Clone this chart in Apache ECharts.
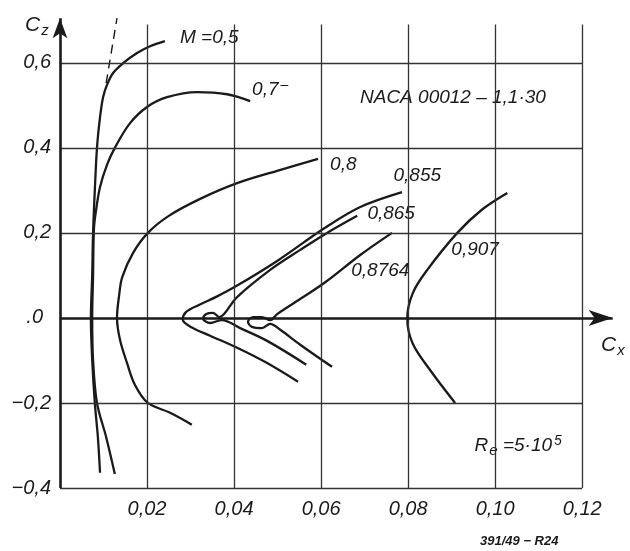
<!DOCTYPE html>
<html><head><meta charset="utf-8">
<script src="https://cdn.jsdelivr.net/npm/echarts@6/dist/echarts.min.js"></script>
<style>html,body{margin:0;padding:0;background:#fff}#c{width:630px;height:551px}</style>
</head><body><div id="c"></div>
<script>
// Tick values and labels
const xTicks = [0.02, 0.04, 0.06, 0.08, 0.10, 0.12];
const xTickLabels = ['0,02', '0,04', '0,06', '0,08', '0,10', '0,12'];
const yTicks = [-0.4, -0.2, 0, 0.2, 0.4, 0.6];
const yTickLabels = ['−0,4', '−0,2', '{z|.0}', '0,2', '0,4', '0,6'];

// Polar curves [Cx, Cz]
const m050 = [[0.0092,-0.364],[0.0087,-0.280],[0.0080,-0.200],[0.0074,-0.099],[0.0071,0.0],[0.0074,0.101],[0.0076,0.200],[0.0080,0.300],[0.0085,0.400],[0.0092,0.472],[0.0099,0.519],[0.0108,0.548],[0.0122,0.576],[0.0145,0.599],[0.0177,0.623],[0.0207,0.639],[0.0241,0.651]];
const m070 = [[0.0126,-0.367],[0.0106,-0.280],[0.0085,-0.200],[0.0076,-0.099],[0.0074,0.0],[0.0076,0.100],[0.0078,0.210],[0.0083,0.254],[0.0092,0.308],[0.0108,0.360],[0.0126,0.400],[0.0161,0.458],[0.0200,0.496],[0.0246,0.519],[0.0315,0.531],[0.0384,0.526],[0.0437,0.510]];
const m080 = [[0.0303,-0.251],[0.0253,-0.223],[0.0202,-0.200],[0.0172,-0.157],[0.0154,-0.106],[0.0138,-0.052],[0.0131,0.0],[0.0136,0.054],[0.0143,0.096],[0.0168,0.153],[0.0202,0.200],[0.0250,0.240],[0.0322,0.280],[0.0407,0.317],[0.0499,0.346],[0.0593,0.374]];
const m0855 = [[0.0547,-0.150],[0.0476,-0.106],[0.0407,-0.070],[0.0345,-0.042],[0.0302,-0.022],[0.0282,-0.004],[0.0290,0.014],[0.0318,0.030],[0.0360,0.050],[0.0407,0.076],[0.0499,0.134],[0.0609,0.212],[0.0690,0.261],[0.0786,0.296]];
const m0865 = [[0.0566,-0.110],[0.0476,-0.054],[0.0414,-0.024],[0.0372,-0.005],[0.0345,-0.012],[0.0329,-0.002],[0.0336,0.009],[0.0352,0.012],[0.0366,0.002],[0.0377,0.009],[0.0407,0.049],[0.0483,0.113],[0.0552,0.160],[0.0609,0.197],[0.0683,0.240]];
const m08764 = [[0.0625,-0.115],[0.0552,-0.063],[0.0506,-0.028],[0.0483,-0.014],[0.0464,-0.024],[0.0441,-0.021],[0.0432,-0.009],[0.0444,0.002],[0.0464,0.002],[0.0483,-0.005],[0.0499,0.009],[0.0559,0.049],[0.0611,0.085],[0.0690,0.148],[0.0763,0.200]];
const m0907 = [[0.1028,0.294],[0.0970,0.255],[0.0913,0.200],[0.0844,0.113],[0.0811,0.059],[0.0798,0.0],[0.0810,-0.059],[0.0850,-0.122],[0.0908,-0.200]];
const tangent = [[0.0106,0.552],[0.0131,0.705]];

// Annotations
const noteText = ['{t|M =0,5}', '{t|0,7}{sup|–}', '{t|0,8}', '{t|0,855}', '{t|0,865}', '{t|0,8764}', '{t|0,907}', '{t|NACA 00012 – 1,1·30}', '{t|R}{sub|e}{t| =5·10}{sup|5}'];
const noteCx = [0.0343, 0.0483, 0.0651, 0.0821, 0.0761, 0.0736, 0.0954, 0.0903, 0.1053];
const noteCz = [0.658, 0.536, 0.360, 0.334, 0.244, 0.110, 0.160, 0.517, -0.301];

const FONT = 'Liberation Sans';
const INK = '#1a1a1a';
const near = (a, b) => Math.abs(a - b) < 1e-6;

const rich = {
  t: {fontSize: 19, fontStyle: 'italic', fontWeight: 'normal', fontFamily: FONT, color: INK, lineHeight: 24},
  sub: {fontSize: 15, fontStyle: 'italic', fontWeight: 'normal', fontFamily: FONT, color: INK, lineHeight: 24, verticalAlign: 'bottom', padding: [10, 0, 0, 1]},
  sup: {fontSize: 14, fontStyle: 'italic', fontWeight: 'normal', fontFamily: FONT, color: INK, lineHeight: 24, verticalAlign: 'top', padding: [0, 0, 10, 2]}
};
const axisRich = {z: {fontSize: 20, fontStyle: 'italic', fontFamily: FONT, color: INK, padding: [0, 8, 0, 0]}};
const nameRich = {
  c: {fontSize: 21, fontStyle: 'italic', fontWeight: 'normal', fontFamily: FONT, color: INK, lineHeight: 26},
  s: {fontSize: 15, fontStyle: 'italic', fontWeight: 'normal', fontFamily: FONT, color: INK, lineHeight: 26, verticalAlign: 'bottom', padding: [8, 0, 0, 1]}
};

const gridLines = [];
xTicks.forEach(x => gridLines.push([{coord: [x, -0.4]}, {coord: [x, 0.69]}]));
yTicks.filter(y => !near(y, 0)).forEach(y => gridLines.push([{coord: [0, y]}, {coord: [0.12, y]}]));

const curve = (data) => ({
  type: 'line', data: data, smooth: 0.35, showSymbol: false, silent: true,
  lineStyle: {color: INK, width: 2.3}, animation: false
});

const chart = echarts.init(document.getElementById('c'), null, {renderer: 'canvas'});
chart.setOption({
  backgroundColor: '#fff',
  animation: false,
  title: [
    {text: '{c|C}{s|z}', left: 20, top: 7, textStyle: {fontWeight: 'normal', rich: nameRich}},
    {text: '{c|C}{s|x}', left: 596, top: 327, textStyle: {fontWeight: 'normal', rich: nameRich}},
    {text: '391/49 − R24', left: 475, top: 530, textStyle: {fontSize: 13, fontWeight: 'bold', fontStyle: 'italic', fontFamily: FONT, color: INK}}
  ],
  grid: {left: 60, right: 13, top: 16, bottom: 63, containLabel: false},
  xAxis: {
    type: 'value', min: 0, max: 0.128, interval: 0.02, position: 'bottom',
    axisLine: {show: false}, axisTick: {show: false}, splitLine: {show: false},
    axisLabel: {
      margin: 11, fontSize: 20, fontStyle: 'italic', fontFamily: FONT, color: INK,
      formatter: v => { const i = xTicks.findIndex(t => near(t, v)); return i >= 0 ? xTickLabels[i] : ''; }
    }
  },
  yAxis: {
    type: 'value', min: -0.4, max: 0.71, interval: 0.2,
    axisLine: {show: false}, axisTick: {show: false}, splitLine: {show: false},
    axisLabel: {
      margin: 9, fontSize: 20, fontStyle: 'italic', fontFamily: FONT, color: INK, rich: axisRich,
      formatter: v => { const i = yTicks.findIndex(t => near(t, v)); return i >= 0 ? yTickLabels[i] : ''; }
    }
  },
  series: [
    {
      type: 'line', data: [], silent: true, animation: false,
      markLine: {silent: true, symbol: 'none', label: {show: false}, animation: false,
        lineStyle: {color: '#333', width: 1.3, type: 'solid'}, emphasis: {disabled: true},
        data: gridLines}
    },
    {
      type: 'line', data: [], silent: true, animation: false,
      markLine: {silent: true, symbol: ['none', 'arrow'], label: {show: false}, animation: false,
        lineStyle: {color: INK, width: 2.6, type: 'solid'}, emphasis: {disabled: true},
        data: [
          [{coord: [0, -0.4], symbol: 'none'}, {coord: [0, 0.705], symbol: 'arrow', symbolSize: [11, 20]}],
          [{coord: [0, 0], symbol: 'none'}, {coord: [0.127, 0], symbol: 'arrow', symbolSize: [12, 24]}]
        ]}
    },
    curve(m050), curve(m070), curve(m080), curve(m0855), curve(m0865), curve(m08764), curve(m0907),
    {type: 'line', data: tangent, showSymbol: false, silent: true, animation: false,
      lineStyle: {color: INK, width: 1.4, type: [9, 6]}},
    {
      type: 'scatter', symbolSize: 0, silent: true, animation: false,
      itemStyle: {color: INK},
      data: noteText.map((t, i) => ({value: [noteCx[i], noteCz[i]],
        label: {show: true, position: 'inside', color: INK, textBorderWidth: 0, textBorderColor: 'transparent', opacity: 1, formatter: t, rich: rich}}))
    }
  ]
});
</script></body></html>
